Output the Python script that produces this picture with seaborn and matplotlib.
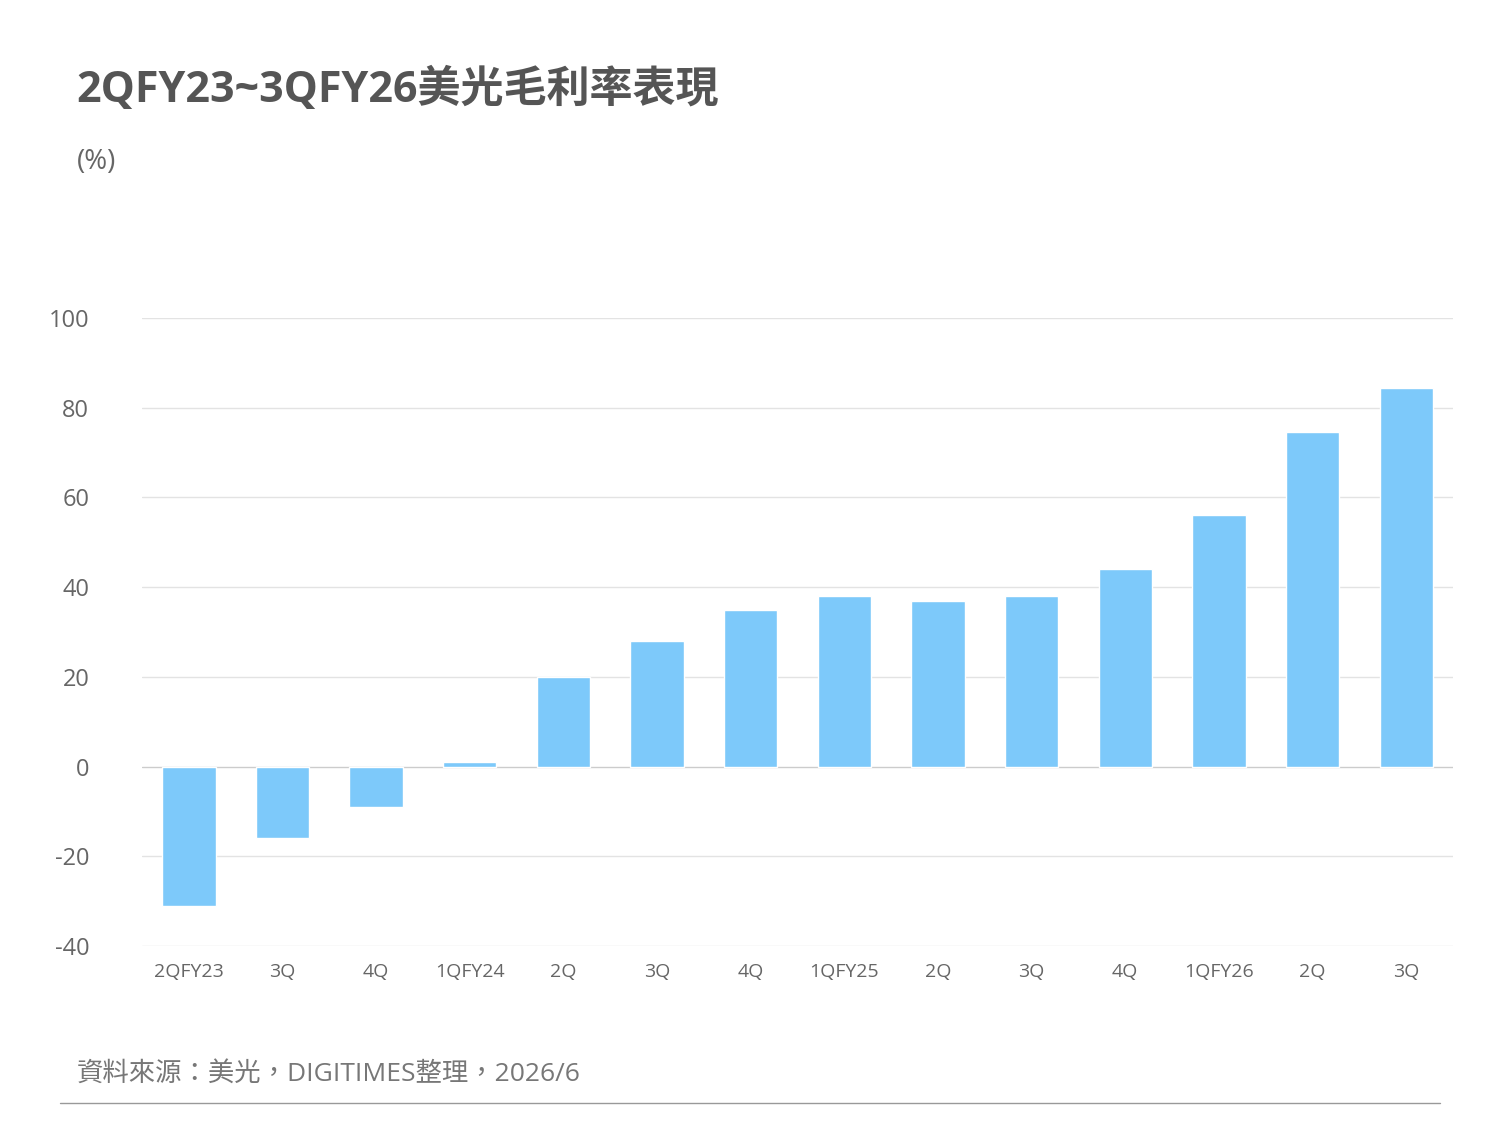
import matplotlib
matplotlib.use("Agg")
import matplotlib.pyplot as plt
import seaborn as sns
import pandas as pd

categories = ["2QFY23","3Q","4Q","1QFY24","2Q","3Q","4Q","1QFY25","2Q","3Q","4Q","1QFY26","2Q","3Q"]
values = [-31, -16, -9, 1, 20, 28, 35, 38, 37, 38, 44, 56, 74.5, 84.5]
yticks = [-40, -20, 0, 20, 40, 60, 80, 100]

sns.set_theme(style="white")
plt.rcParams['font.family'] = ['Open Sans', 'Noto Sans CJK TC', 'DejaVu Sans']

df = pd.DataFrame({"pos": [str(i) for i in range(len(categories))], "v": values})
fig = plt.figure(figsize=(15, 11.25), dpi=100)
ax = fig.add_axes([0.0947, 0.159, 0.874, 0.5583])
sns.barplot(data=df, x="pos", y="v", color="#7DC9FA", width=0.57, saturation=1, ax=ax)
ax.set_xlim(-0.5, len(categories) - 0.5)
ax.set_ylim(-40, 100)
ax.set_yticks(yticks)
ax.set_yticklabels([str(t) for t in yticks], fontsize=17, color="#666666")
ax.set_xticks(range(len(categories)))
ax.set_xticklabels(categories, fontsize=14, color="#666666")
ax.tick_params(axis='both', length=0)
ax.tick_params(axis='y', pad=38)
ax.tick_params(axis='x', pad=12)
for t in yticks:
    ax.axhline(t, color="#cccccc" if t == 0 else "#e3e3e3", lw=1, zorder=0)
for s in ax.spines.values():
    s.set_visible(False)
ax.set_xlabel("")
ax.set_ylabel("")

fig.text(0.051, 0.92, "2QFY23~3QFY26美光毛利率表現", fontsize=31, fontweight="bold", color="#555555", va="center")
fig.text(0.051, 0.856, "(%)", fontsize=20, color="#666666", va="center")
fig.text(0.051, 0.045, "資料來源：美光，DIGITIMES整理，2026/6", fontsize=19, color="#777777", va="center")
fig.add_artist(plt.Line2D([0.04, 0.96], [0.0196, 0.0196], color="#999999", lw=1))
fig.savefig("out.png", dpi=100)
